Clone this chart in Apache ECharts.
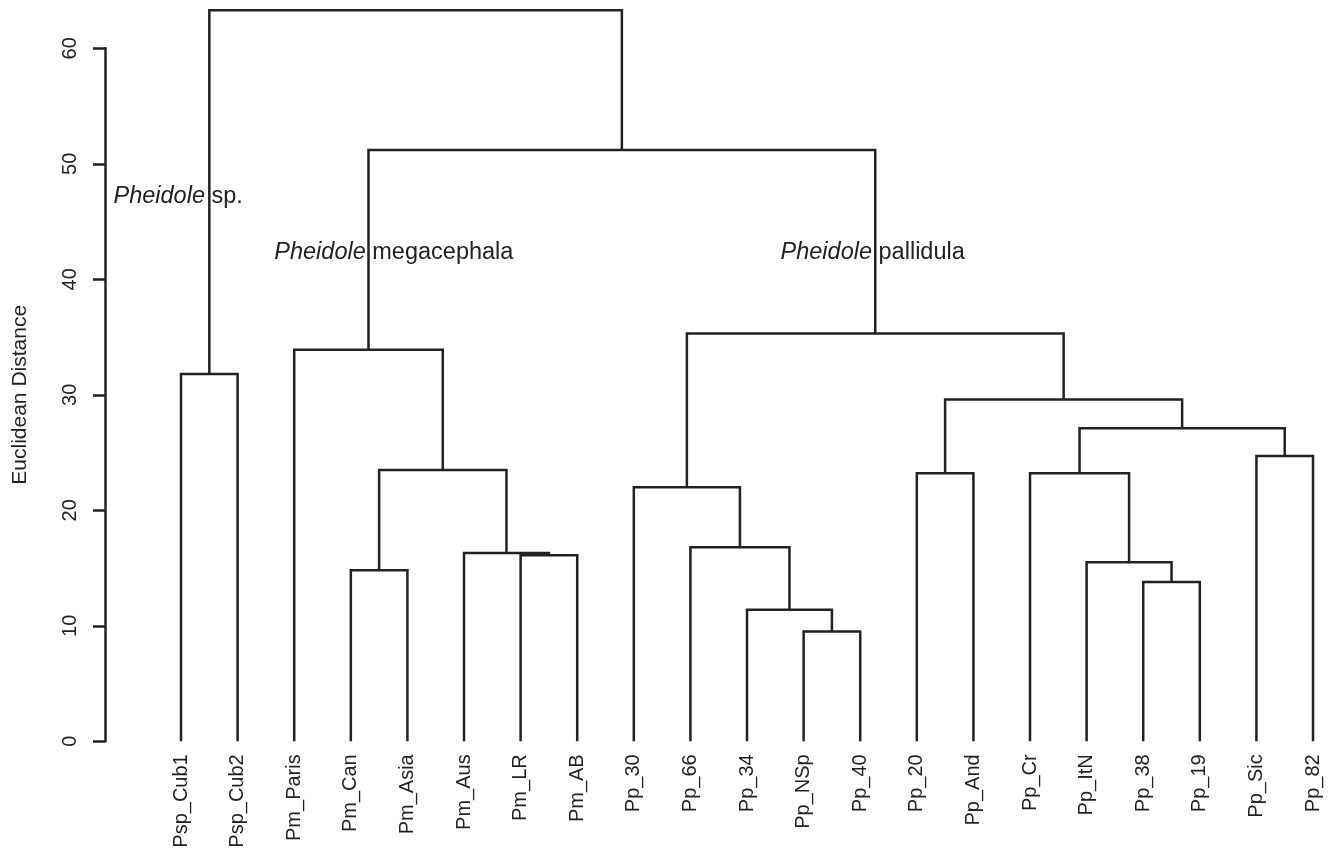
<!DOCTYPE html>
<html><head><meta charset="utf-8">
<script src="https://cdn.jsdelivr.net/npm/echarts@6/dist/echarts.min.js"></script>
<style>html,body{margin:0;padding:0;background:#fff}#c{width:1333px;height:852px}</style>
</head><body><div id="c"></div>
<script>
// Leaf labels, in dendrogram order
const leaves = ['Psp_Cub1','Psp_Cub2','Pm_Paris','Pm_Can','Pm_Asia','Pm_Aus','Pm_LR','Pm_AB',
  'Pp_30','Pp_66','Pp_34','Pp_NSp','Pp_40','Pp_20','Pp_And','Pp_Cr','Pp_ItN','Pp_38','Pp_19','Pp_Sic','Pp_82'];
// hclust-style merges: negative = leaf (1-based), positive = earlier merge (1-based)
const mergeLeft  = [-12,-11,-18, -4,-17, -7, -6,-10, -9,-14,-16,  4,-20, 11, 10, -1, -3,  9, 17, 16];
const mergeRight = [-13,  1,-19, -5,  3, -8,  6,  2,  8,-15,  5,  7,-21, 13, 14, -2, 12, 15, 18, 19];
const mergeHeight = [9.5,11.4,13.8,14.8,15.5,16.1,16.3,16.8,22.0,23.2,23.2,23.5,24.7,27.1,29.6,31.8,33.9,35.3,51.2,63.3];
// y-axis ticks
const yTicks = [0,10,20,30,40,50,60];
// group annotations (x in leaf index, y in distance)
const annoItalic = ['Pheidole','Pheidole','Pheidole'];
const annoPlain = [' sp.',' megacephala',' pallidula'];
const annoX = [-0.05, 3.76, 12.22];
const annoY = [47.2, 42.3, 42.3];

const FONT = "'Liberation Sans', Arial, Helvetica, sans-serif";
const INK = '#222';

// build segments from the tree structure
const nodeX = [], nodeH = [], segData = [];
function childPos(c){ return c < 0 ? [-c-1, 0] : [nodeX[c-1], nodeH[c-1]]; }
for (let i = 0; i < mergeHeight.length; i++) {
  const a = childPos(mergeLeft[i]), b = childPos(mergeRight[i]);
  nodeX[i] = (a[0] + b[0]) / 2; nodeH[i] = mergeHeight[i];
  segData.push([a[0], a[1], b[0], b[1], mergeHeight[i]]);
}
const annoData = annoX.map((x, i) => [x, annoY[i]]);
const leafData = leaves.map((name, i) => [i, 0]);

const chart = echarts.init(document.getElementById('c'), null, {renderer:'canvas'});
chart.setOption({
  animation: false,
  backgroundColor: '#fff',
  grid: {left: 105, right: 0, top: 48.3, bottom: 110.7, containLabel: false},
  xAxis: {type:'value', min:-1.343, max:20.353, show:false},
  yAxis: {type:'value', min:yTicks[0], max:yTicks[yTicks.length-1], interval:yTicks[1]-yTicks[0],
    axisLine:{show:true, onZero:false, lineStyle:{color:INK, width:2.5}},
    axisTick:{show:true, length:12, lineStyle:{color:INK, width:2.5}},
    axisLabel:{rotate:90, margin:25, fontSize:20, color:INK, fontFamily:FONT},
    splitLine:{show:false},
    name:'Euclidean Distance', nameLocation:'middle', nameRotate:90, nameGap:74,
    nameTextStyle:{fontSize:21, color:INK, fontFamily:FONT}},
  series: [
    {type:'custom', clip:false, silent:true,
     encode:{x:[0,2], y:[1,3,4]},
     data: segData,
     renderItem(params, api){
       const p1 = api.coord([api.value(0), api.value(1)]);
       const p2 = api.coord([api.value(0), api.value(4)]);
       const p3 = api.coord([api.value(2), api.value(4)]);
       const p4 = api.coord([api.value(2), api.value(3)]);
       return {type:'polyline', shape:{points:[p1,p2,p3,p4]},
         style:{stroke:INK, lineWidth:2.5, fill:null, lineJoin:'miter', lineCap:'butt'}};
     }},
    {type:'custom', clip:false, silent:true,
     encode:{x:0, y:1},
     data: leafData,
     renderItem(params, api){
       const p = api.coord([api.value(0), api.value(1)]);
       return {type:'text', x:p[0], y:p[1] + 13, rotation: Math.PI/2,
         style:{text: leaves[params.dataIndex], fontSize:20, fontFamily:FONT, fill:INK,
           align:'right', verticalAlign:'middle'}};
     }},
    {type:'custom', clip:false, silent:true,
     encode:{x:0, y:1},
     data: annoData,
     renderItem(params, api){
       const p = api.coord([api.value(0), api.value(1)]);
       const i = params.dataIndex;
       return {type:'text', x:p[0], y:p[1],
         style:{text:'{i|'+annoItalic[i]+'}'+annoPlain[i],
           rich:{i:{fontStyle:'italic', fontSize:23.5, fontFamily:FONT, fill:INK}},
           fontSize:23.5, fontFamily:FONT, fill:INK, align:'center', verticalAlign:'middle'}};
     }}
  ]
});
</script>
</body></html>
